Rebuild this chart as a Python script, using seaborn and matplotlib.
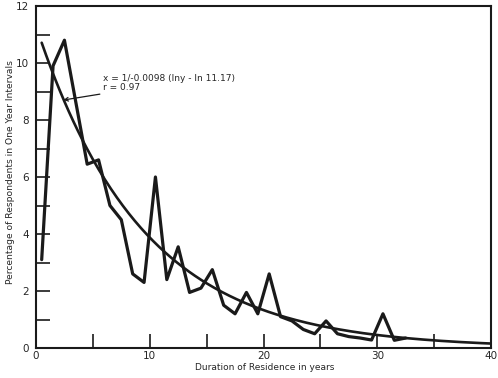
import numpy as np
import pandas as pd
import matplotlib
matplotlib.use("Agg")
import matplotlib.pyplot as plt
import seaborn as sns

# Observed percentages (midpoints of one-year intervals)
years = [0.5, 1.5, 2.5, 4.5, 5.5, 6.5, 7.5, 8.5, 9.5, 10.5, 11.5, 12.5, 13.5,
         14.5, 15.5, 16.5, 17.5, 18.5, 19.5, 20.5, 21.5, 22.5, 23.5, 24.5,
         25.5, 26.5, 27.5, 28.5, 29.5, 30.5, 31.5, 32.5]
percent = [3.1, 9.9, 10.8, 6.45, 6.6, 5.0, 4.5, 2.6, 2.3, 6.0, 2.4, 3.55, 1.95,
           2.1, 2.75, 1.5, 1.2, 1.95, 1.2, 2.6, 1.1, 0.95, 0.65, 0.5,
           0.95, 0.5, 0.4, 0.35, 0.28, 1.2, 0.27, 0.35]

# Fitted exponential curve parameters
fit_intercept = 11.3
fit_rate = 0.107
fit_start, fit_end = 0.5, 40.0

x_ticks_labeled = [0, 10, 20, 30, 40]
y_ticks_labeled = [0, 2, 4, 6, 8, 10, 12]
annotation_lines = "x = 1/-0.0098 (lny - ln 11.17)\nr = 0.97"
xlabel = "Duration of Residence in years"
ylabel = "Percentage of Respondents in One Year Intervals"

sns.set_style("white")
plt.rcParams['font.family'] = ['DejaVu Sans']

fig = plt.figure(figsize=(4.98, 3.78), dpi=100)
ax = fig.add_axes([36/498, 1-348/378, (491-36)/498, (348-6)/378])

obs = pd.DataFrame({"x": years, "y": percent})
sns.lineplot(data=obs, x="x", y="y", ax=ax, color="#1a1a1a", linewidth=2.3,
             estimator=None, sort=False)

xf = np.linspace(fit_start, fit_end, 300)
fit = pd.DataFrame({"x": xf, "y": fit_intercept * np.exp(-fit_rate * xf)})
sns.lineplot(data=fit, x="x", y="y", ax=ax, color="#1a1a1a", linewidth=1.9,
             estimator=None, sort=False)

ax.set_xlim(0, 40)
ax.set_ylim(0, 12)
ax.set_xticks(x_ticks_labeled)
ax.set_xticks([5, 15, 25, 35], minor=True)
ax.set_yticks(y_ticks_labeled)
ax.set_yticks([1, 3, 5, 7, 9, 11], minor=True)
ax.tick_params(axis='both', which='both', direction='in', length=10,
               width=1.2, color="#1a1a1a", labelsize=7.5, pad=5,
               bottom=True, left=True, top=False, right=False)
ax.tick_params(axis='x', which='both', pad=2.5)
for s in ax.spines.values():
    s.set_color("#1a1a1a")
    s.set_linewidth(1.5)

ax.set_xlabel(xlabel, fontsize=6.5)
ax.set_ylabel(ylabel, fontsize=6.6)
ax.xaxis.set_label_coords(0.503, -0.043)
ax.yaxis.set_label_coords(-0.046, 0.515)

ax.annotate(annotation_lines, xy=(2.4, 8.7), xytext=(5.9, 9.3),
            fontsize=6.5, va='center', ha='left', linespacing=1.0,
            arrowprops=dict(arrowstyle='->', color="#1a1a1a", lw=0.9,
                            shrinkA=0, shrinkB=0))

fig.savefig("out.png", dpi=100)
